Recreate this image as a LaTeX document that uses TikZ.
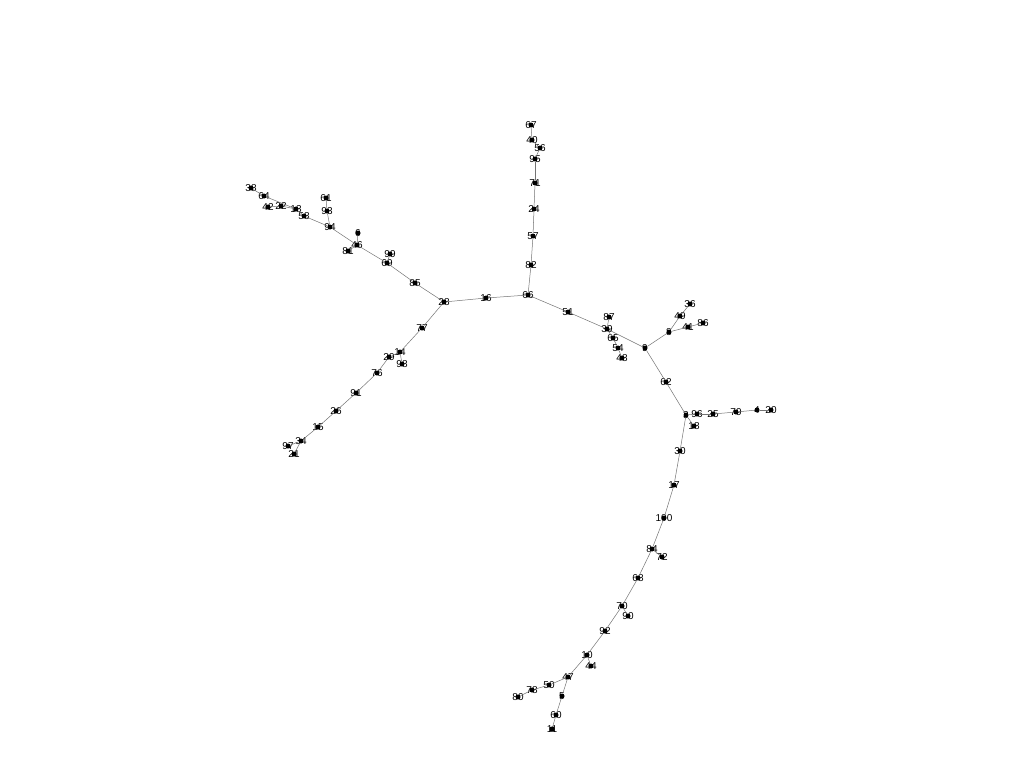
\documentclass[tikz,border=0pt]{standalone}
\usepackage{fontspec}
\setmainfont{Liberation Sans}
\begin{document}
\begin{tikzpicture}[x=1pt,y=-1pt,
  vtx/.style={circle,fill=black,inner sep=0pt,minimum size=5pt,
    label={[font=\fontsize{10}{10}\selectfont,inner sep=0pt,text=black]center:#1}},
  edge/.style={draw=black!55,line width=0.5pt}]
\useasboundingbox (0,0) rectangle (1024,768);
% nodes
\node[vtx=66] (n66) at (528,295) {};
\node[vtx=16] (n16) at (486,298) {};
\node[vtx=28] (n28) at (444,302) {};
\node[vtx=82] (n82) at (531,265) {};
\node[vtx=57] (n57) at (533,236) {};
\node[vtx=24] (n24) at (534,209) {};
\node[vtx=71] (n71) at (535,183) {};
\node[vtx=95] (n95) at (535,159) {};
\node[vtx=56] (n56) at (540,148) {};
\node[vtx=40] (n40) at (532,140) {};
\node[vtx=67] (n67) at (531,125) {};
\node[vtx=51] (n51) at (568,312) {};
\node[vtx=39] (n39) at (607,329) {};
\node[vtx=87] (n87) at (609,317) {};
\node[vtx=65] (n65) at (613,338) {};
\node[vtx=54] (n54) at (618,348) {};
\node[vtx=48] (n48) at (622,358) {};
\node[vtx=9] (n9) at (645,348) {};
\node[vtx=8] (n8) at (669,332) {};
\node[vtx=49] (n49) at (680,316) {};
\node[vtx=36] (n36) at (690,304) {};
\node[vtx=41] (n41) at (688,327) {};
\node[vtx=86] (n86) at (703,323) {};
\node[vtx=62] (n62) at (666,382) {};
\node[vtx=3] (n3) at (686,415) {};
\node[vtx=96] (n96) at (697,414) {};
\node[vtx=25] (n25) at (713,414) {};
\node[vtx=79] (n79) at (736,412) {};
\node[vtx=4] (n4) at (757,410) {};
\node[vtx=20] (n20) at (771,410) {};
\node[vtx=18] (n18) at (694,426) {};
\node[vtx=30] (n30) at (680,451) {};
\node[vtx=17] (n17) at (674,485) {};
\node[vtx=100] (n100) at (664,518) {};
\node[vtx=84] (n84) at (652,549) {};
\node[vtx=72] (n72) at (662,557) {};
\node[vtx=68] (n68) at (638,578) {};
\node[vtx=70] (n70) at (622,606) {};
\node[vtx=90] (n90) at (628,616) {};
\node[vtx=92] (n92) at (605,631) {};
\node[vtx=10] (n10) at (587,655) {};
\node[vtx=44] (n44) at (591,666) {};
\node[vtx=47] (n47) at (568,677) {};
\node[vtx=50] (n50) at (549,685) {};
\node[vtx=78] (n78) at (532,690) {};
\node[vtx=80] (n80) at (518,697) {};
\node[vtx=5] (n5) at (562,696) {};
\node[vtx=60] (n60) at (556,715) {};
\node[vtx=11] (n11) at (552,729) {};
\node[vtx=85] (n85) at (415,283) {};
\node[vtx=69] (n69) at (387,263) {};
\node[vtx=99] (n99) at (390,254) {};
\node[vtx=46] (n46) at (357,245) {};
\node[vtx=6] (n6) at (358,233) {};
\node[vtx=81] (n81) at (348,251) {};
\node[vtx=94] (n94) at (330,227) {};
\node[vtx=93] (n93) at (327,211) {};
\node[vtx=61] (n61) at (326,198) {};
\node[vtx=58] (n58) at (304,216) {};
\node[vtx=13] (n13) at (296,209) {};
\node[vtx=22] (n22) at (281,206) {};
\node[vtx=42] (n42) at (268,207) {};
\node[vtx=64] (n64) at (264,196) {};
\node[vtx=38] (n38) at (251,188) {};
\node[vtx=77] (n77) at (422,328) {};
\node[vtx=14] (n14) at (400,352) {};
\node[vtx=98] (n98) at (402,364) {};
\node[vtx=29] (n29) at (389,357) {};
\node[vtx=76] (n76) at (377,373) {};
\node[vtx=91] (n91) at (356,393) {};
\node[vtx=26] (n26) at (336,411) {};
\node[vtx=15] (n15) at (318,427) {};
\node[vtx=34] (n34) at (301,441) {};
\node[vtx=97] (n97) at (288,446) {};
\node[vtx=21] (n21) at (294,454) {};
% edges
\begin{scope}[on background layer/.style={}]
\end{scope}
\foreach \a/\b in {66/16,16/28,66/82,82/57,57/24,24/71,71/95,95/56,56/40,40/67,
  66/51,51/39,39/9,39/87,39/65,65/54,54/48,
  9/8,8/49,49/36,8/41,41/86,
  9/62,62/3,3/96,96/25,25/79,79/4,4/20,3/18,3/30,30/17,17/100,100/84,84/72,84/68,
  68/70,70/90,70/92,92/10,10/44,10/47,47/50,50/78,78/80,47/5,5/60,60/11,
  28/85,85/69,69/99,69/46,46/6,46/81,46/94,94/93,93/61,94/58,58/13,13/22,22/42,13/64,64/38,
  28/77,77/14,14/98,14/29,29/76,76/91,91/26,26/15,15/34,34/97,34/21}
  \draw[edge] (n\a) -- (n\b);
\end{tikzpicture}
\end{document}
